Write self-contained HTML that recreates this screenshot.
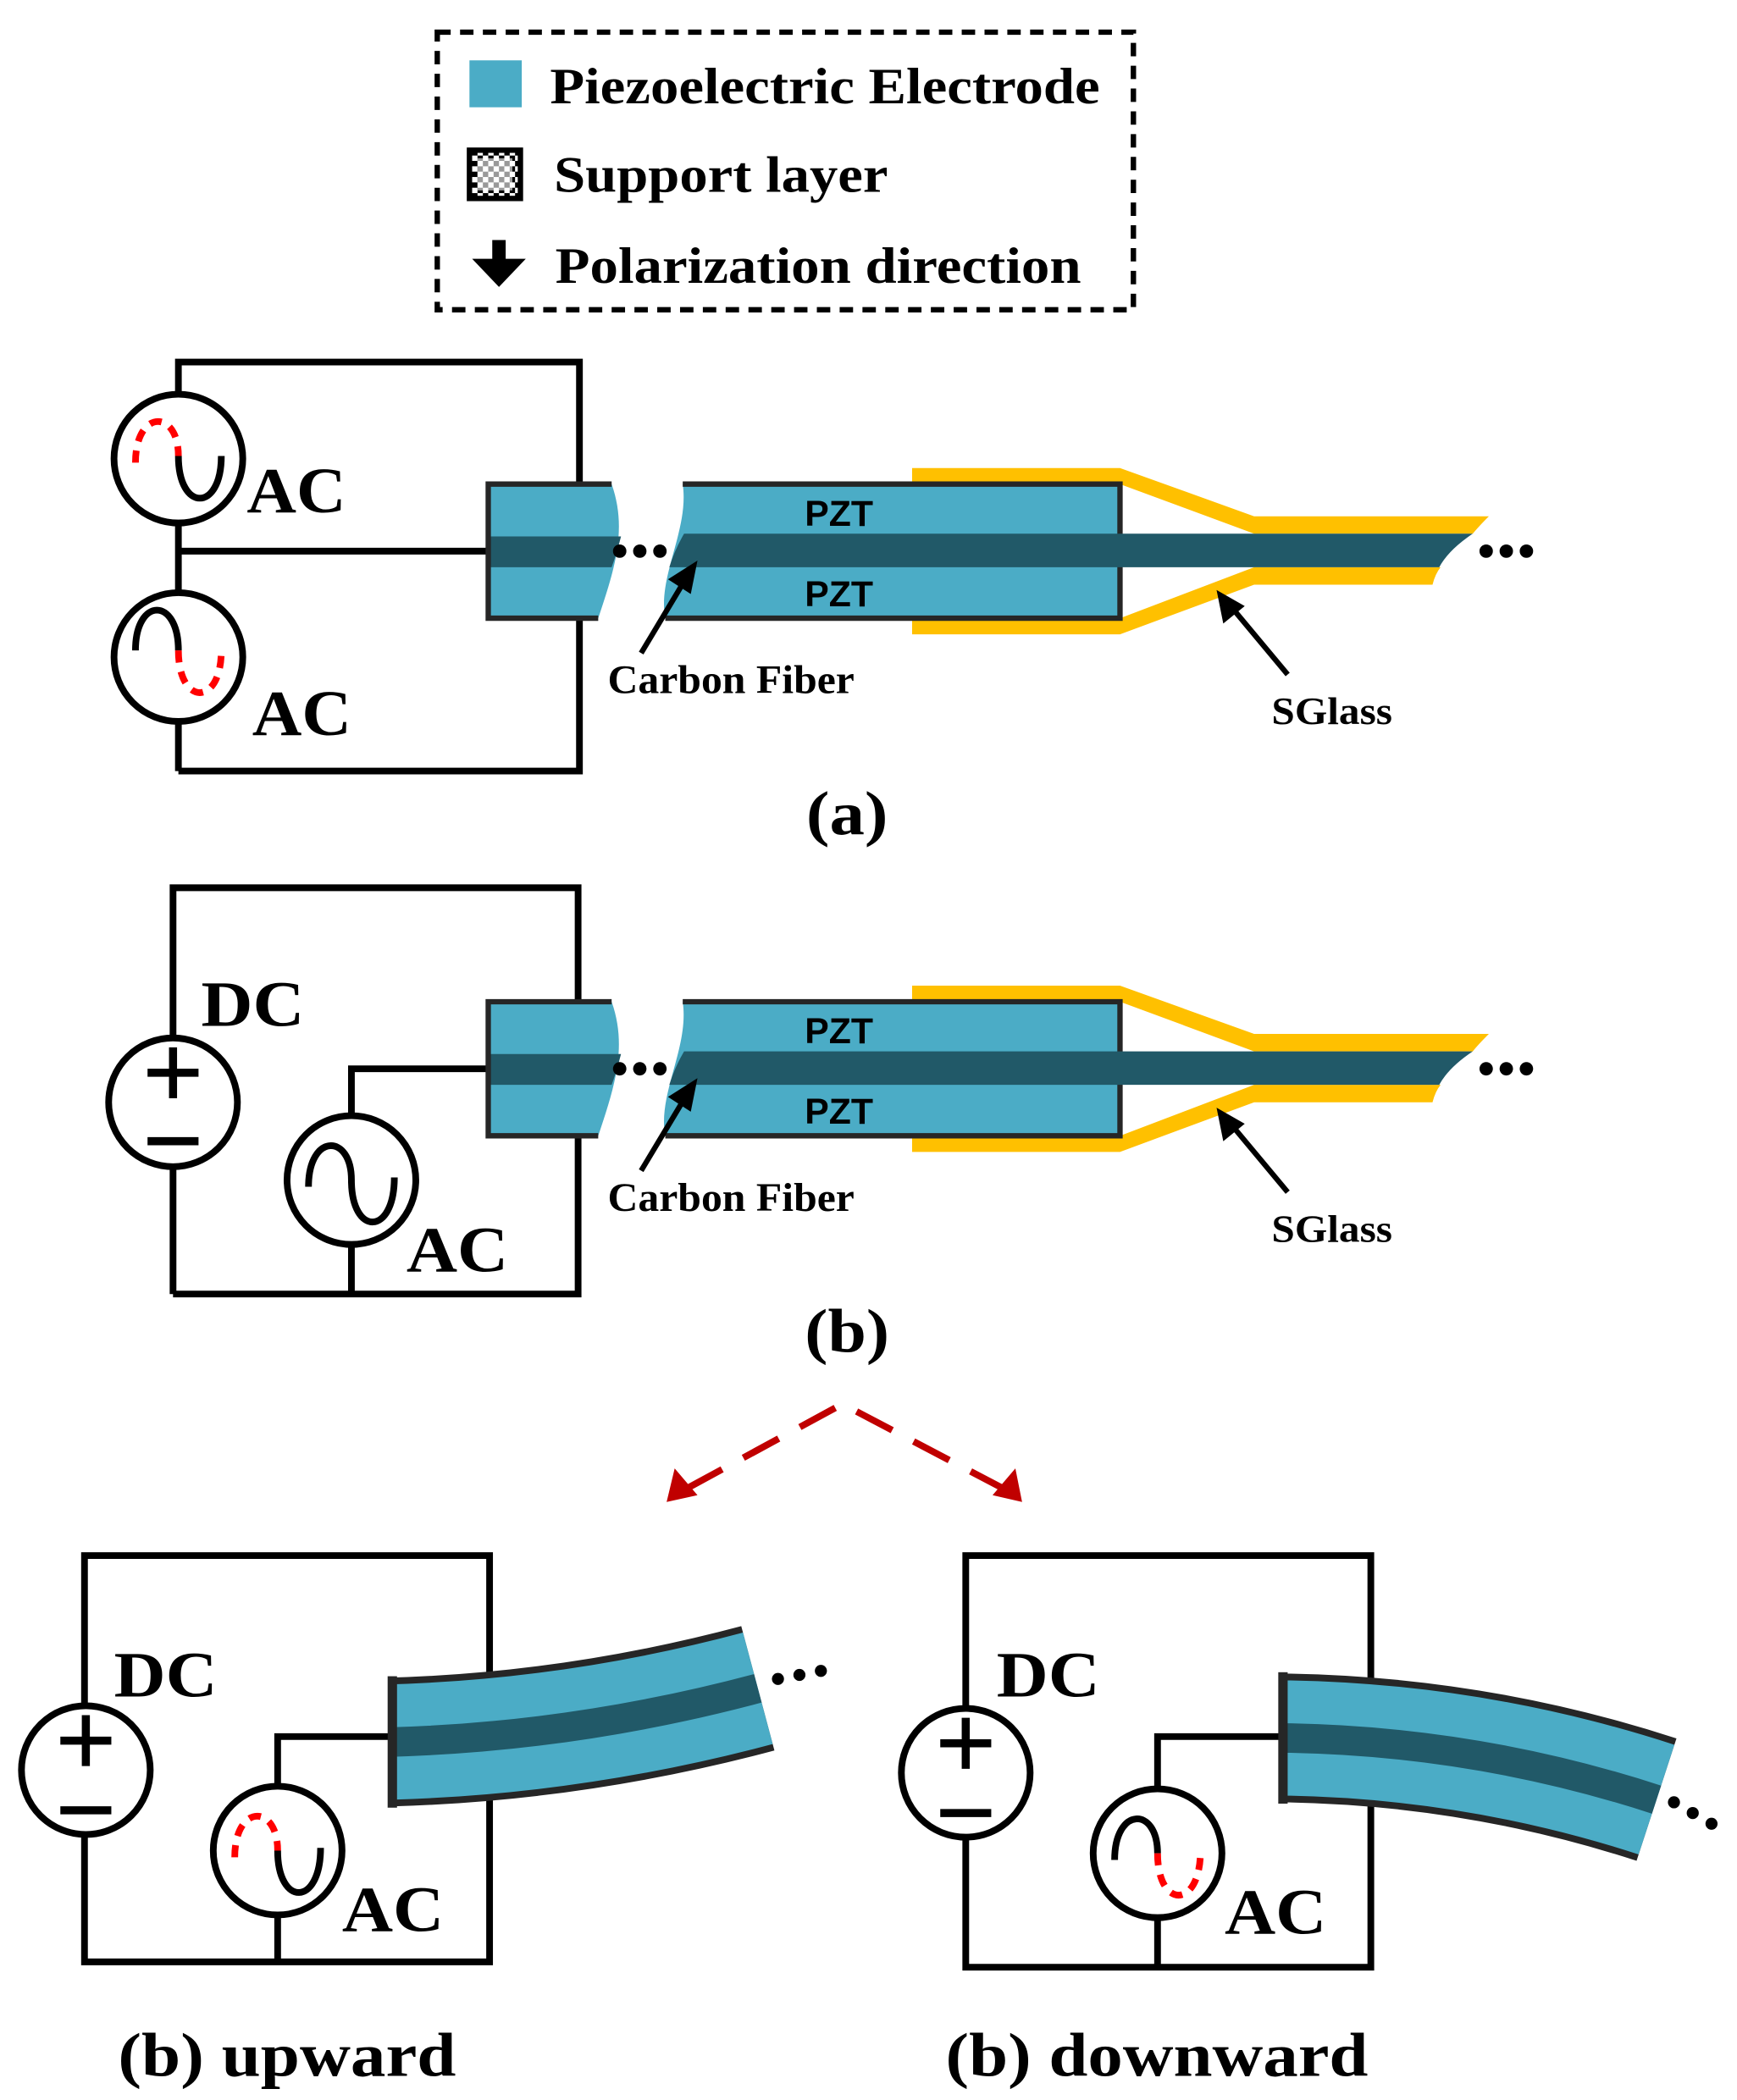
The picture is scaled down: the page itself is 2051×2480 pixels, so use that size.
<!DOCTYPE html>
<html><head><meta charset="utf-8"><style>
html,body{margin:0;padding:0;background:#fff;}
svg{display:block;}
.s{font-family:"Liberation Serif",serif;font-weight:bold;}
.p{font-family:"Liberation Sans",sans-serif;font-weight:bold;}
</style></head><body>
<svg width="2051" height="2480" viewBox="0 0 1295 1566" preserveAspectRatio="none" xmlns="http://www.w3.org/2000/svg">
<defs>
<pattern id="chk" width="8" height="8" patternUnits="userSpaceOnUse">
<rect width="8" height="8" fill="#fff"/><rect width="4" height="4" fill="#000"/><rect x="4" y="4" width="4" height="4" fill="#000"/>
</pattern>
<g id="beam">
  <path d="M680,349 L835,349 L935,385 L1110,385 Q1102,393 1098,398 L935,398 L835,361 L680,361 Z" fill="#FFC000"/>
  <path d="M680,473 L835,473 L935,436 L1068,436 Q1070,428 1074,423 L935,423 L835,461 L680,461 Z" fill="#FFC000"/>
  <!-- left block -->
  <path d="M364,361 L456,361 C468,395 458,425 446,461 L364,461 Z" fill="#4BACC6"/>
  <path d="M364,400 L463,400 Q460,412 456,423 L364,423 Z" fill="#215968"/>
  <path d="M456,361 L364,361 L364,461 L446,461" stroke="#262626" stroke-width="4" fill="none"/>
  <!-- right block -->
  <path d="M509,361 L835,361 L835,461 L496,461 C490,430 514,395 509,361 Z" fill="#4BACC6"/>
  <path d="M509,361 L835,361 L835,461 L496,461" stroke="#262626" stroke-width="4" fill="none"/>
  <path d="M510,398 L1098,398 Q1080,410 1073,423 L499,423 Q503,410 510,398 Z" fill="#215968"/>
  <text x="600" y="392" class="p" font-size="27">PZT</text>
  <text x="600" y="452" class="p" font-size="27">PZT</text>
  <g fill="#000"><circle cx="462" cy="411" r="5"/><circle cx="477" cy="411" r="5"/><circle cx="492" cy="411" r="5"/>
  <circle cx="1108" cy="411" r="5"/><circle cx="1123" cy="411" r="5"/><circle cx="1138" cy="411" r="5"/></g>
  <line x1="478" y1="487" x2="508" y2="437" stroke="#000" stroke-width="4"/>
  <polygon points="520,418 498,432 515,443" fill="#000"/>
  <line x1="960" y1="503" x2="920" y2="455" stroke="#000" stroke-width="4"/>
  <polygon points="907,440 912,465 928,452" fill="#000"/>
  <text x="453" y="517" class="s" font-size="30" textLength="184" lengthAdjust="spacingAndGlyphs">Carbon Fiber</text>
  <text x="948" y="540" class="s" font-size="29" textLength="90" lengthAdjust="spacingAndGlyphs">SGlass</text>
</g>
</defs>

<!-- legend -->
<rect x="326" y="24" width="519" height="207" fill="none" stroke="#000" stroke-width="4" stroke-dasharray="10,7"/>
<rect x="350" y="45" width="39" height="35" fill="#4BACC6"/>
<text x="410" y="77" class="s" font-size="38" textLength="410" lengthAdjust="spacingAndGlyphs">Piezoelectric Electrode</text>
<rect x="350" y="112" width="38" height="36" fill="url(#chk)" stroke="#000" stroke-width="4"/>
<rect x="356" y="118" width="26" height="24" fill="#fff" opacity="0.6"/>
<text x="413" y="143" class="s" font-size="38" textLength="249" lengthAdjust="spacingAndGlyphs">Support layer</text>
<rect x="367" y="179" width="10" height="16" fill="#000"/>
<polygon points="352,193 392,193 372,214" fill="#000"/>
<text x="414" y="211" class="s" font-size="38" textLength="392" lengthAdjust="spacingAndGlyphs">Polarization direction</text>

<!-- (a) circuit -->
<g stroke="#000" stroke-width="5" fill="none">
<path d="M133,575 L133,270 L432,270 L432,361"/>
<path d="M432,461 L432,575 L133,575"/>
<line x1="133" y1="411" x2="364" y2="411"/>
</g>
<circle cx="133" cy="342" r="48" fill="#fff" stroke="#000" stroke-width="5"/>
<circle cx="133" cy="490" r="48" fill="#fff" stroke="#000" stroke-width="5"/>
<path d="M101,345 C101,305 133,305 133,340" stroke="#f00" stroke-width="5" fill="none" stroke-dasharray="9,7"/>
<path d="M133,340 C133,382 165,382 165,340" stroke="#000" stroke-width="5" fill="none"/>
<path d="M101,485 C101,445 133,445 133,485" stroke="#000" stroke-width="5" fill="none"/>
<path d="M133,485 C133,527 165,527 165,485" stroke="#f00" stroke-width="5" fill="none" stroke-dasharray="9,7"/>
<text x="184" y="382" class="s" font-size="48" textLength="74" lengthAdjust="spacingAndGlyphs">AC</text>
<text x="188" y="548" class="s" font-size="48" textLength="74" lengthAdjust="spacingAndGlyphs">AC</text>
<use href="#beam"/>
<text x="601" y="622" class="s" font-size="46" textLength="61" lengthAdjust="spacingAndGlyphs">(a)</text>

<!-- (b) circuit -->
<g stroke="#000" stroke-width="5" fill="none">
<path d="M129,965 L129,662 L431,662 L431,747"/>
<path d="M431,847 L431,965 L129,965"/>
<path d="M364,797 L262,797 L262,965"/>
</g>
<circle cx="129" cy="822" r="48" fill="#fff" stroke="#000" stroke-width="5"/>
<path d="M110,800 L148,800 M129,781 L129,819 M110,851 L148,851" stroke="#000" stroke-width="6"/>
<circle cx="262" cy="880" r="48" fill="#fff" stroke="#000" stroke-width="5"/>
<path d="M230,885 C230,845 262,845 262,880 C262,922 294,922 294,878" stroke="#000" stroke-width="5" fill="none"/>
<text x="150" y="765" class="s" font-size="48" textLength="77" lengthAdjust="spacingAndGlyphs">DC</text>
<text x="303" y="948" class="s" font-size="48" textLength="76" lengthAdjust="spacingAndGlyphs">AC</text>
<use href="#beam" transform="translate(0,386)"/>
<text x="600" y="1008" class="s" font-size="46" textLength="63" lengthAdjust="spacingAndGlyphs">(b)</text>

<!-- red dashed arrows -->
<path d="M512,1110 L628,1047 L748,1110" stroke="#C00000" stroke-width="5" fill="none" stroke-dasharray="30,18"/>
<polygon points="497,1120 503,1095 520,1115" fill="#C00000"/>
<polygon points="762,1120 740,1115 757,1095" fill="#C00000"/>

<!-- bottom left -->
<g stroke="#000" stroke-width="5" fill="none">
<path d="M63,1463 L63,1160 L365,1160 L365,1463 Z"/>
<path d="M293,1295 L207,1295 L207,1463"/>
</g>
<circle cx="64" cy="1320" r="48" fill="#fff" stroke="#000" stroke-width="5"/>
<path d="M45,1298 L83,1298 M64,1279 L64,1317 M45,1350 L83,1350" stroke="#000" stroke-width="6"/>
<circle cx="207" cy="1380" r="48" fill="#fff" stroke="#000" stroke-width="5"/>
<path d="M175,1385 C175,1345 207,1345 207,1380" stroke="#f00" stroke-width="5" fill="none" stroke-dasharray="9,7"/>
<path d="M207,1380 C207,1422 239,1422 239,1378" stroke="#000" stroke-width="5" fill="none"/>
<path d="M293,1299 Q430,1295 565,1259" stroke="#262626" stroke-width="96" fill="none"/>
<path d="M293,1299 Q430,1295 565,1259" stroke="#4BACC6" stroke-width="86" fill="none"/>
<path d="M293,1299 Q430,1295 565,1259" stroke="#215968" stroke-width="22" fill="none"/>
<rect x="289" y="1250" width="7" height="98" fill="#262626"/>
<g fill="#000"><circle cx="580" cy="1252" r="4.5"/><circle cx="596" cy="1249" r="4.5"/><circle cx="612" cy="1246" r="4.5"/></g>
<text x="85" y="1265" class="s" font-size="48" textLength="77" lengthAdjust="spacingAndGlyphs">DC</text>
<text x="255" y="1440" class="s" font-size="48" textLength="76" lengthAdjust="spacingAndGlyphs">AC</text>
<text x="88" y="1548" class="s" font-size="46" textLength="252" lengthAdjust="spacingAndGlyphs">(b) upward</text>

<!-- bottom right -->
<g stroke="#000" stroke-width="5" fill="none">
<path d="M720,1467 L720,1160 L1022,1160 L1022,1467 Z"/>
<path d="M955,1295 L863,1295 L863,1467"/>
</g>
<circle cx="720" cy="1322" r="48" fill="#fff" stroke="#000" stroke-width="5"/>
<path d="M701,1300 L739,1300 M720,1281 L720,1319 M701,1352 L739,1352" stroke="#000" stroke-width="6"/>
<circle cx="863" cy="1382" r="48" fill="#fff" stroke="#000" stroke-width="5"/>
<path d="M831,1387 C831,1347 863,1347 863,1382" stroke="#000" stroke-width="5" fill="none"/>
<path d="M863,1382 C863,1424 895,1424 895,1380" stroke="#f00" stroke-width="5" fill="none" stroke-dasharray="9,7"/>
<path d="M957,1296 Q1100,1298 1235,1342" stroke="#262626" stroke-width="96" fill="none"/>
<path d="M957,1296 Q1100,1298 1235,1342" stroke="#4BACC6" stroke-width="86" fill="none"/>
<path d="M957,1296 Q1100,1298 1235,1342" stroke="#215968" stroke-width="22" fill="none"/>
<rect x="953" y="1247" width="7" height="98" fill="#262626"/>
<g fill="#000"><circle cx="1248" cy="1344" r="4.5"/><circle cx="1262" cy="1352" r="4.5"/><circle cx="1276" cy="1360" r="4.5"/></g>
<text x="743" y="1265" class="s" font-size="48" textLength="77" lengthAdjust="spacingAndGlyphs">DC</text>
<text x="913" y="1442" class="s" font-size="48" textLength="76" lengthAdjust="spacingAndGlyphs">AC</text>
<text x="705" y="1548" class="s" font-size="46" textLength="315" lengthAdjust="spacingAndGlyphs">(b) downward</text>
</svg>
</body></html>
